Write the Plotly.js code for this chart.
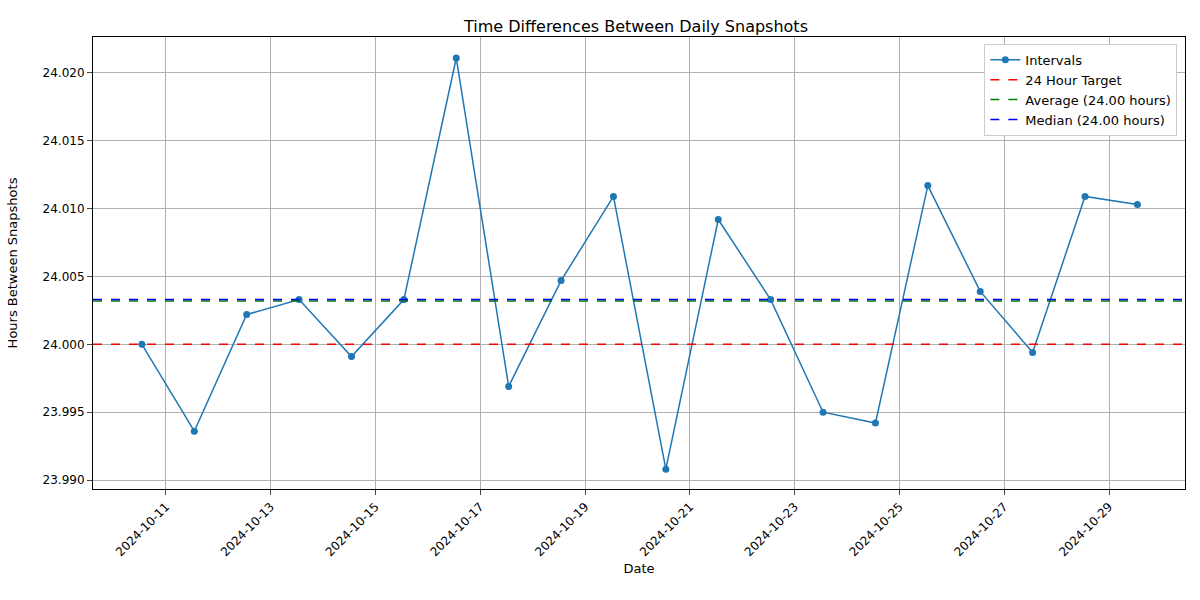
<html><head><script src="https://cdn.plot.ly/plotly-3.0.1.min.js"></script></head><body style="margin:0">
<div id="c" style="width:1200px;height:600px"></div>
<script>
const dates = ["2024-10-10 13:00","2024-10-11 13:00","2024-10-12 13:00","2024-10-13 13:00","2024-10-14 13:00","2024-10-15 13:00","2024-10-16 13:00","2024-10-17 13:00","2024-10-18 13:00","2024-10-19 13:00","2024-10-20 13:00","2024-10-21 13:00","2024-10-22 13:00","2024-10-23 13:00","2024-10-24 13:00","2024-10-25 13:00","2024-10-26 13:00","2024-10-27 13:00","2024-10-28 13:00","2024-10-29 13:00"];
const hours = [24.0000,23.9936,24.0022,24.0033,23.9991,24.0033,24.0211,23.9969,24.0047,24.0109,23.9908,24.0092,24.0033,23.9950,23.9942,24.0117,24.0039,23.9994,24.0109,24.0103];
const target = 24, avg = 24.0032, med = 24.0033;
const xr = ["2024-10-09 14:36","2024-10-30 10:48"];
const tickvals = ["2024-10-11","2024-10-13","2024-10-15","2024-10-17","2024-10-19","2024-10-21","2024-10-23","2024-10-25","2024-10-27","2024-10-29"];
const hl = (y,c,n)=>({x:xr,y:[y,y],mode:'lines',line:{color:c,dash:'dash',width:1.5},name:n});
Plotly.newPlot('c',[
 {x:dates,y:hours,mode:'lines+markers',line:{color:'#1f77b4',width:1.5},marker:{size:7,color:'#1f77b4'},name:'Intervals'},
 hl(target,'red','24 Hour Target'),hl(avg,'green','Average (24.00 hours)'),hl(med,'blue','Median (24.00 hours)')
],{
 width:1200,height:600,margin:{l:93,r:15,t:37,b:111},
 font:{family:'DejaVu Sans',size:12,color:'black'},
 title:{text:'Time Differences Between Daily Snapshots',x:0.53,y:0.965,font:{size:16}},
 xaxis:{range:xr,tickvals:tickvals,ticktext:tickvals,tickangle:-45,showgrid:true,gridcolor:'#b0b0b0',showline:true,mirror:true,linecolor:'black',ticks:'outside',zeroline:false,title:{text:'Date',standoff:5,font:{size:13}}},
 yaxis:{range:[23.98934,24.02265],tickvals:[23.990,23.995,24.000,24.005,24.010,24.015,24.020],tickformat:'.3f',showgrid:true,gridcolor:'#b0b0b0',showline:true,mirror:true,linecolor:'black',ticks:'outside',zeroline:false,title:{text:'Hours Between Snapshots',standoff:22,font:{size:13}}},
 legend:{x:0.993,y:0.985,xanchor:'right',yanchor:'top',bordercolor:'#ccc',borderwidth:1,bgcolor:'white',font:{size:13}},
 plot_bgcolor:'white',paper_bgcolor:'white'
},{displayModeBar:false});
</script></body></html>
